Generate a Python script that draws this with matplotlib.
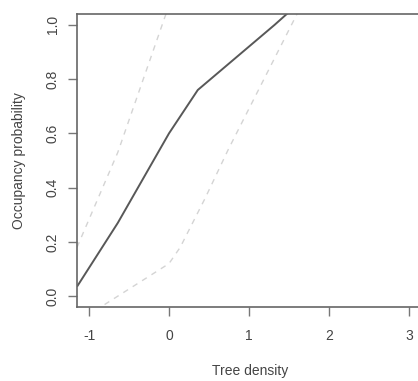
import matplotlib
matplotlib.use("Agg")
import matplotlib.pyplot as plt

# fitted curve and confidence band
fit_x = [-1.15, -0.64, 0.0, 0.36, 0.9, 1.32, 1.7]
fit_y = [0.035, 0.27, 0.60, 0.76, 0.895, 1.00, 1.10]
upper_x = [-1.15, -0.64, -0.05, 0.10]
upper_y = [0.18, 0.53, 1.03, 1.15]
lower_x = [-1.15, -0.80, 0.0, 0.14, 0.45, 0.74, 1.60, 1.75]
lower_y = [-0.10, -0.03, 0.12, 0.18, 0.36, 0.54, 1.04, 1.13]
x_ticks = [-1, 0, 1, 2, 3]
y_ticks = [0.0, 0.2, 0.4, 0.6, 0.8, 1.0]

plt.rcParams['font.family'] = ['Liberation Sans', 'DejaVu Sans']
fig = plt.figure(figsize=(4.18, 3.81), dpi=100)
ax = fig.add_axes([77/418, 1 - 307/381, (423 - 77)/418, (307 - 14)/381])

ax.plot(fit_x, fit_y, color='#585858', lw=1.4, solid_capstyle='butt')
ax.plot(upper_x, upper_y, color='#d4d4d4', lw=1.0, ls=(0, (4, 4)))
ax.plot(lower_x, lower_y, color='#d4d4d4', lw=1.0, ls=(0, (4, 4)))

ax.set_xlim(-1.15, 3.175)
ax.set_ylim(-0.04, 1.04)
ax.set_xticks(x_ticks)
ax.set_xticklabels([str(t) for t in x_ticks])
ax.set_yticks(y_ticks)
ax.set_yticklabels(['%.1f' % t for t in y_ticks], rotation=90, va='center')

for s in ax.spines.values():
    s.set_color('#666666')
    s.set_linewidth(1.2)
ax.tick_params(colors='#777777', labelcolor='#444444', length=6.5, width=1.0,
               labelsize=10)
ax.tick_params(axis='x', pad=9.5)
ax.tick_params(axis='y', pad=6)
ax.set_xlabel('Tree density', fontsize=10, color='#444444', labelpad=15)
ax.set_ylabel('Occupancy probability', fontsize=10, color='#444444', labelpad=14)

fig.savefig('out.png', dpi=100)
